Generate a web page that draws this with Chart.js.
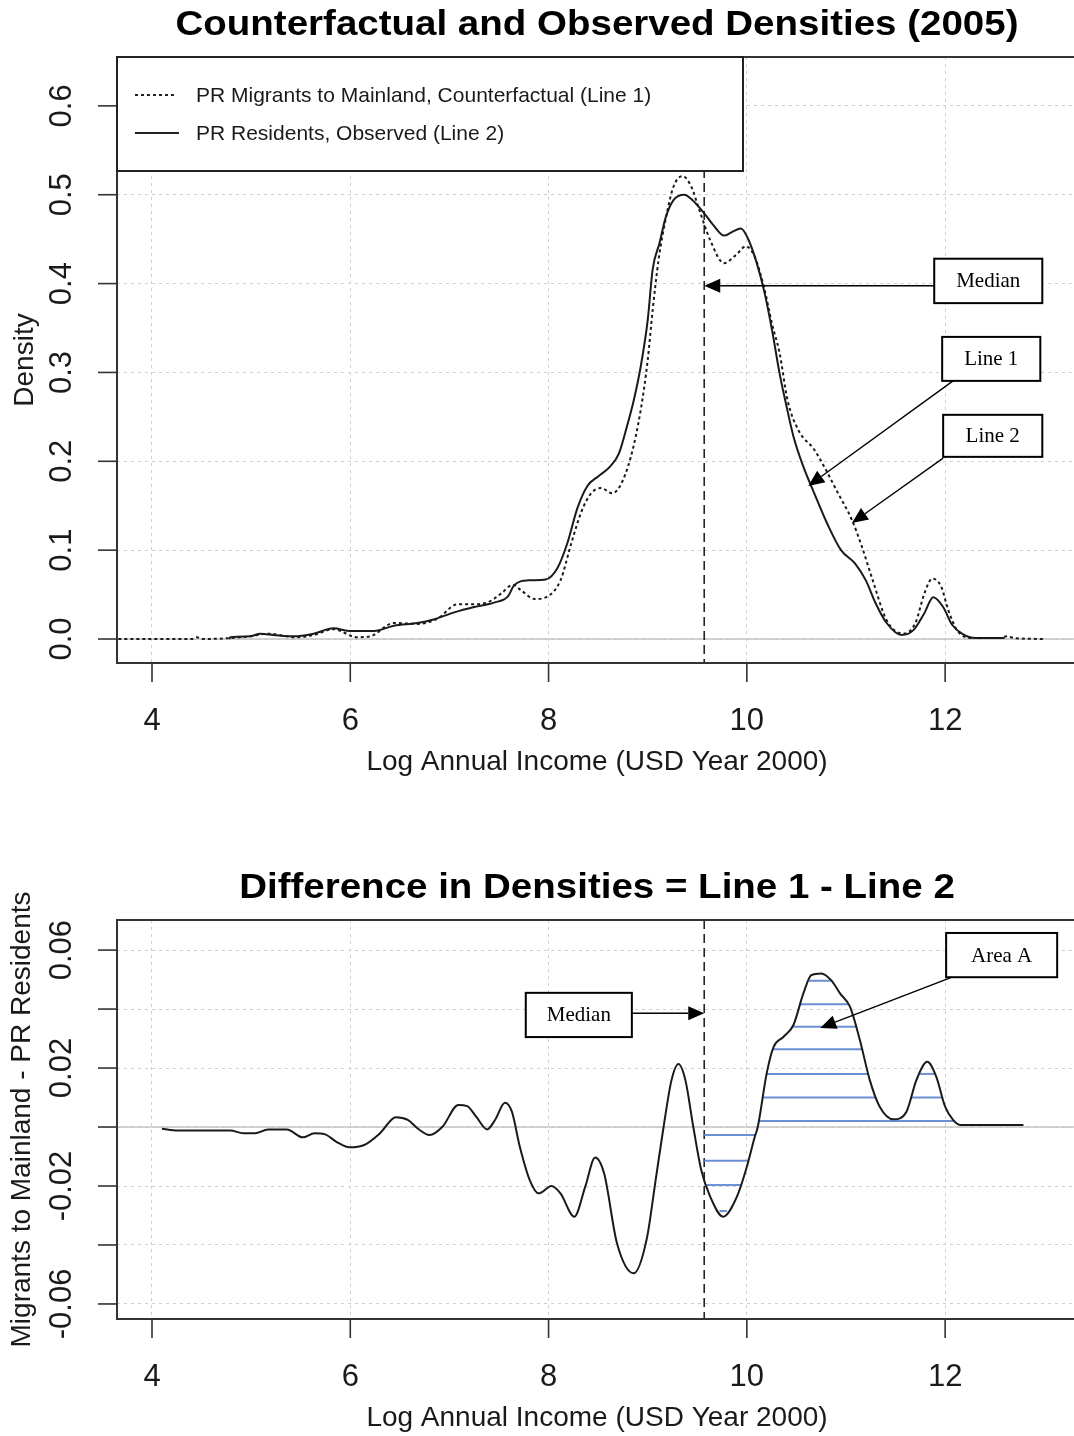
<!DOCTYPE html>
<html>
<head>
<meta charset="utf-8">
<script src="https://cdn.jsdelivr.net/npm/chart.js@4.4.1/dist/chart.umd.min.js"></script>
<style>
  html, body { margin: 0; padding: 0; background: #fff; overflow: hidden; }
  #wrap { position: relative; width: 1074px; height: 1436px; overflow: hidden; }
  canvas { position: absolute; left: 0; }
  #densityChart { top: 0; }
  #diffChart { top: 830px; }
</style>
</head>
<body>
<div id="wrap">
  <canvas id="densityChart" width="1100" height="800"></canvas>
  <canvas id="diffChart" width="1100" height="606"></canvas>
</div>
<script>
// --- data ---
const incomeTicks = [4, 6, 8, 10, 12];
const densityTicks = [0, 0.1, 0.2, 0.3, 0.4, 0.5, 0.6];
const densityTickLabels = ['0.0', '0.1', '0.2', '0.3', '0.4', '0.5', '0.6'];
const diffTicks = [-0.06, -0.04, -0.02, 0, 0.02, 0.04, 0.06];
const diffTickLabels = ['-0.06', '', '-0.02', '', '0.02', '', '0.06'];
const medianIncome = 9.57;

// Line 1: PR migrants to mainland, counterfactual (dotted)
const counterX = [3.60, 4.40, 4.45, 4.52, 4.99, 5.16, 5.46, 5.63, 5.83, 6.07, 6.20, 6.44, 6.68, 6.88, 7.08, 7.21, 7.38, 7.52, 7.64, 7.72, 7.86, 7.99,
  8.12, 8.23, 8.33, 8.43, 8.53, 8.64, 8.72, 8.83, 8.93, 9.00, 9.05, 9.11, 9.18, 9.26, 9.35, 9.44, 9.52, 9.63, 9.77, 9.89, 9.99,
  10.08, 10.17, 10.26, 10.33, 10.41, 10.52, 10.68, 10.78, 10.92, 11.06, 11.16, 11.27, 11.41, 11.58, 11.70, 11.79, 11.87, 11.96,
  12.03, 12.12, 12.27, 12.55, 12.62, 12.70, 13.00];
const counterY = [0, 0, 0.002, 0, 0.003, 0.006, 0.002, 0.0045, 0.011, 0.002, 0.003, 0.018, 0.017, 0.023, 0.039, 0.039, 0.041, 0.051, 0.061, 0.055, 0.045, 0.048,
  0.066, 0.108, 0.143, 0.164, 0.170, 0.164, 0.172, 0.205, 0.258, 0.314, 0.370, 0.427, 0.472, 0.509, 0.521, 0.509, 0.483, 0.449, 0.423, 0.432, 0.442,
  0.430, 0.397, 0.352, 0.322, 0.269, 0.235, 0.213, 0.194, 0.164, 0.134, 0.104, 0.066, 0.021, 0.006, 0.018, 0.051, 0.068, 0.059,
  0.033, 0.010, 0.001, 0.001, 0.003, 0.001, 0];

// Line 2: PR residents, observed (solid)
const observedX = [4.78, 4.79, 4.99, 5.09, 5.23, 5.43, 5.63, 5.83, 6.00, 6.24, 6.44, 6.68, 6.84, 7.05, 7.25, 7.45, 7.59, 7.65, 7.79, 7.97,
  8.09, 8.19, 8.29, 8.39, 8.50, 8.62, 8.71, 8.79, 8.86, 8.93, 9.00, 9.05, 9.12, 9.18, 9.26, 9.37, 9.45, 9.57, 9.66, 9.77, 9.85, 9.94,
  10.01, 10.10, 10.18, 10.26, 10.33, 10.40, 10.47, 10.57, 10.68, 10.81, 10.95, 11.09, 11.20, 11.30, 11.41, 11.56, 11.68, 11.79, 11.88,
  11.98, 12.07, 12.17, 12.31, 12.60];
const observedY = [0, 0.002, 0.003, 0.006, 0.0045, 0.003, 0.006, 0.012, 0.009, 0.009, 0.015, 0.018, 0.022, 0.030, 0.036, 0.041, 0.048, 0.060, 0.066, 0.067,
  0.080, 0.108, 0.147, 0.172, 0.183, 0.194, 0.209, 0.239, 0.269, 0.307, 0.359, 0.416, 0.446, 0.474, 0.494, 0.500, 0.494, 0.479, 0.466, 0.454, 0.458, 0.462,
  0.451, 0.423, 0.389, 0.344, 0.299, 0.262, 0.228, 0.194, 0.164, 0.130, 0.100, 0.085, 0.066, 0.040, 0.018, 0.0045, 0.010, 0.029, 0.047,
  0.036, 0.016, 0.006, 0.001, 0.001];

// Difference in densities = Line 1 - Line 2
const diffX = [4.10, 4.26, 4.79, 4.92, 5.04, 5.17, 5.36, 5.52, 5.64, 5.74, 5.86, 5.99, 6.14, 6.30, 6.46, 6.58, 6.68, 6.80, 6.93, 7.09, 7.18, 7.27,
  7.38, 7.46, 7.56, 7.63, 7.71, 7.81, 7.90, 8.03, 8.12, 8.26, 8.37, 8.47, 8.56, 8.69, 8.86, 8.99, 9.08, 9.16, 9.24, 9.31, 9.38, 9.46,
  9.54, 9.63, 9.76, 9.90, 10.00, 10.08, 10.11, 10.20, 10.27, 10.37, 10.47, 10.57, 10.65, 10.75, 10.85, 10.94, 11.04, 11.14, 11.24,
  11.34, 11.48, 11.61, 11.71, 11.82, 11.91, 12.00, 12.08, 12.15, 12.79];
const diffY = [-0.0006, -0.0012, -0.0012, -0.0021, -0.0021, -0.0008, -0.0008, -0.0035, -0.0021, -0.0024, -0.0050, -0.0069, -0.0061, -0.0021, 0.0033, 0.0024, -0.0005, -0.0027, 0.0001, 0.0075, 0.0071, 0.0035,
  -0.0008, 0.0024, 0.0082, 0.0052, -0.0067, -0.0180, -0.0225, -0.0200, -0.0225, -0.0304, -0.0202, -0.0103, -0.0157, -0.0394, -0.0496, -0.0380, -0.0180, 0, 0.0159, 0.0214, 0.0159, 0,
  -0.0146, -0.0236, -0.0304, -0.0236, -0.0135, -0.0033, 0, 0.0182, 0.0272, 0.0306, 0.0346, 0.0453, 0.0515, 0.0521, 0.0498, 0.0453, 0.0408, 0.0295, 0.0159,
  0.0069, 0.0026, 0.0052, 0.0159, 0.0221, 0.0171, 0.0069, 0.0024, 0.0007, 0.0007];

// levels of the hand-drawn hatching
const hatchUp = [0.002, 0.010, 0.018, 0.0264, 0.034, 0.0416, 0.0496];
const hatchDown = [-0.0027, -0.0114, -0.0197, -0.0285];

// text boxes with arrows, in data units
const densityNotes = [
  { text: 'Median', box: [11.89, 12.98, 0.428, 0.378], from: [11.89, 0.3975], to: [medianIncome, 0.3975] },
  { text: 'Line 1', box: [11.97, 12.96, 0.340, 0.2905], from: [12.08, 0.2905], to: [10.62, 0.1723] },
  { text: 'Line 2', box: [11.98, 12.98, 0.2523, 0.205], from: [11.98, 0.2035], to: [11.06, 0.1306] }
];
const diffNotes = [
  { text: 'Median', box: [7.77, 8.84, 0.0455, 0.0305], from: [8.84, 0.0386], to: [medianIncome, 0.0386] },
  { text: 'Area A', box: [12.01, 13.13, 0.0658, 0.0508], from: [12.07, 0.0508], to: [10.74, 0.0336] }
];

const SANS = '"Liberation Sans", Arial, sans-serif';
const SERIF = '"Liberation Serif", "Times New Roman", serif';
const HATCH = '#6b8fd4';

const pts = (xs, ys) => xs.map((x, i) => ({ x, y: ys[i] }));

function yAt(xs, ys, x) {
  if (x <= xs[0]) return ys[0];
  for (let i = 1; i < xs.length; i++) {
    if (x <= xs[i]) {
      const t = (x - xs[i - 1]) / (xs[i] - xs[i - 1]);
      return ys[i - 1] + t * (ys[i] - ys[i - 1]);
    }
  }
  return ys[ys.length - 1];
}

// x-intervals in [lo, hi] where the curve is above (or below) a level
function hatchSegments(xs, ys, level, lo, hi, above) {
  const grid = [lo, ...xs.filter(x => x > lo && x < hi), hi];
  const f = x => above ? yAt(xs, ys, x) - level : level - yAt(xs, ys, x);
  const segs = [];
  let start = f(lo) >= 0 ? lo : null;
  for (let i = 1; i < grid.length; i++) {
    const a = grid[i - 1], b = grid[i], fa = f(a), fb = f(b);
    if (fa < 0 && fb >= 0) start = a + (b - a) * (-fa) / (fb - fa);
    if (fa >= 0 && fb < 0) {
      segs.push([start, a + (b - a) * fa / (fa - fb)]);
      start = null;
    }
  }
  if (start !== null) segs.push([start, hi]);
  return segs;
}

function hatchSets() {
  const out = [];
  const add = (lvls, lo, hi, above) => lvls.forEach(l => {
    hatchSegments(diffX, diffY, l, lo, hi, above).forEach(s => {
      out.push({ data: [{ x: s[0], y: l }, { x: s[1], y: l }], borderColor: HATCH, borderWidth: 2, pointRadius: 0, tension: 0 });
    });
  });
  add(hatchUp, medianIncome, 12.3, true);
  add(hatchDown, medianIncome, 10.3, false);
  return out;
}

function txt(ctx, s, x, y, font, o = {}) {
  ctx.save();
  ctx.translate(x, y);
  if (o.rot) ctx.rotate(o.rot);
  ctx.scale(o.sx || 1, 1);
  ctx.font = font;
  ctx.fillStyle = o.color || '#1a1a1a';
  ctx.textAlign = o.align || 'center';
  ctx.textBaseline = o.base || 'middle';
  ctx.fillText(s, 0, 0);
  ctx.restore();
}

function arrow(ctx, x1, y1, x2, y2) {
  const a = Math.atan2(y2 - y1, x2 - x1), L = 16, W = 7;
  const bx = x2 - L * Math.cos(a), by = y2 - L * Math.sin(a);
  ctx.beginPath();
  ctx.moveTo(x1, y1);
  ctx.lineTo(bx, by);
  ctx.stroke();
  ctx.beginPath();
  ctx.moveTo(x2, y2);
  ctx.lineTo(bx + W * Math.sin(a), by - W * Math.cos(a));
  ctx.lineTo(bx - W * Math.sin(a), by + W * Math.cos(a));
  ctx.closePath();
  ctx.fill();
}

function decor(o) {
  return {
    id: 'decor',
    beforeDatasetsDraw(chart) {
      const { ctx, chartArea: a, scales: { x, y } } = chart;
      ctx.save();
      ctx.strokeStyle = '#c4c4c4';
      ctx.lineWidth = 1.5;
      const zy = y.getPixelForValue(0);
      ctx.beginPath(); ctx.moveTo(a.left, zy); ctx.lineTo(a.right, zy); ctx.stroke();
      ctx.strokeStyle = '#222';
      ctx.lineWidth = 1.6;
      ctx.setLineDash([9, 5]);
      const mx = x.getPixelForValue(medianIncome);
      ctx.beginPath(); ctx.moveTo(mx, a.top); ctx.lineTo(mx, a.bottom); ctx.stroke();
      ctx.restore();
    },
    afterDraw(chart) {
      const { ctx, chartArea: a, scales: { x, y } } = chart;
      ctx.save();
      ctx.strokeStyle = '#333';
      ctx.lineWidth = 2;
      ctx.strokeRect(a.left, a.top, a.right - a.left, a.bottom - a.top);

      // ticks and tick labels
      ctx.lineWidth = 1.6;
      incomeTicks.forEach(v => {
        const px = x.getPixelForValue(v);
        ctx.beginPath(); ctx.moveTo(px, a.bottom); ctx.lineTo(px, a.bottom + 19); ctx.stroke();
        txt(ctx, String(v), px, a.bottom + 58, '31px ' + SANS);
      });
      o.yTicks.forEach((v, i) => {
        const py = y.getPixelForValue(v);
        ctx.beginPath(); ctx.moveTo(a.left - 19, py); ctx.lineTo(a.left, py); ctx.stroke();
        if (o.yLabels[i]) txt(ctx, o.yLabels[i], a.left - 55, py, '31px ' + SANS, { rot: -Math.PI / 2 });
      });

      // titles
      txt(ctx, o.title, 597, a.top - 32, 'bold 35px ' + SANS, { sx: 1.1, color: '#000' });
      txt(ctx, 'Log Annual Income (USD Year 2000)', 597, a.bottom + 99, '28px ' + SANS);
      txt(ctx, o.yTitle, a.left - o.yTitleOff, (a.top + a.bottom) / 2, '28px ' + SANS, { rot: -Math.PI / 2 });

      // legend
      if (o.legend) {
        const lx = a.left, ly = a.top;
        ctx.fillStyle = '#fff';
        ctx.fillRect(lx, ly, 626, 114);
        ctx.lineWidth = 2;
        ctx.strokeStyle = '#222';
        ctx.strokeRect(lx, ly, 626, 114);
        ctx.lineWidth = 2;
        ctx.setLineDash([3, 3]);
        ctx.beginPath(); ctx.moveTo(lx + 18, ly + 38); ctx.lineTo(lx + 58, ly + 38); ctx.stroke();
        ctx.setLineDash([]);
        ctx.beginPath(); ctx.moveTo(lx + 18, ly + 76); ctx.lineTo(lx + 62, ly + 76); ctx.stroke();
        txt(ctx, 'PR Migrants to Mainland, Counterfactual (Line 1)', lx + 79, ly + 39, '21px ' + SANS, { align: 'left' });
        txt(ctx, 'PR Residents, Observed (Line 2)', lx + 79, ly + 77, '21px ' + SANS, { align: 'left' });
      }

      // annotation boxes and arrows
      o.notes.forEach(n => {
        const x1 = x.getPixelForValue(n.box[0]), x2 = x.getPixelForValue(n.box[1]);
        const y1 = y.getPixelForValue(n.box[2]), y2 = y.getPixelForValue(n.box[3]);
        ctx.fillStyle = '#fff';
        ctx.fillRect(x1, y1, x2 - x1, y2 - y1);
        ctx.strokeStyle = '#000';
        ctx.lineWidth = 2;
        ctx.strokeRect(x1, y1, x2 - x1, y2 - y1);
        txt(ctx, n.text, (x1 + x2) / 2, (y1 + y2) / 2 + 1, '21px ' + SERIF, { color: '#000' });
        ctx.fillStyle = '#000';
        ctx.lineWidth = 1.4;
        arrow(ctx, x.getPixelForValue(n.from[0]), y.getPixelForValue(n.from[1]),
          x.getPixelForValue(n.to[0]), y.getPixelForValue(n.to[1]));
      });
      ctx.restore();
    }
  };
}

function axisOpts(min, max, ticks, size) {
  return {
    type: 'linear',
    min, max,
    afterBuildTicks: s => { s.ticks = ticks.map(v => ({ value: v })); },
    afterFit: s => { if (s.isHorizontal()) s.height = size; else s.width = size; },
    ticks: { display: false },
    grid: { color: '#cfcfcf', lineWidth: 1, drawTicks: false, borderDash: [3, 4] },
    border: { display: false, dash: [3, 4] }
  };
}

const common = {
  responsive: false,
  animation: false,
  events: [],
  plugins: { legend: { display: false }, tooltip: { enabled: false } },
  elements: { point: { radius: 0 } }
};

new Chart(document.getElementById('densityChart'), {
  type: 'line',
  data: {
    datasets: [
      { data: pts(observedX, observedY), borderColor: '#1a1a1a', borderWidth: 2, cubicInterpolationMode: 'monotone', pointRadius: 0 },
      { data: pts(counterX, counterY), borderColor: '#1a1a1a', borderWidth: 2, borderDash: [3, 3], cubicInterpolationMode: 'monotone', pointRadius: 0 }
    ]
  },
  options: Object.assign({}, common, {
    layout: { padding: { top: 57, right: 23, bottom: 0, left: 0 } },
    scales: {
      x: axisOpts(3.647, 13.33, incomeTicks, 137),
      y: axisOpts(-0.027, 0.655, densityTicks, 117)
    }
  }),
  plugins: [decor({
    title: 'Counterfactual and Observed Densities (2005)',
    yTitle: 'Density', yTitleOff: 92,
    yTicks: densityTicks, yLabels: densityTickLabels,
    legend: true, notes: densityNotes
  })]
});

new Chart(document.getElementById('diffChart'), {
  type: 'line',
  data: {
    datasets: [
      { data: pts(diffX, diffY), borderColor: '#1a1a1a', borderWidth: 2, cubicInterpolationMode: 'monotone', pointRadius: 0 }
    ].concat(hatchSets())
  },
  options: Object.assign({}, common, {
    layout: { padding: { top: 90, right: 23, bottom: 0, left: 0 } },
    scales: {
      x: axisOpts(3.647, 13.33, incomeTicks, 117),
      y: axisOpts(-0.0651, 0.0702, diffTicks, 117)
    }
  }),
  plugins: [decor({
    title: 'Difference in Densities = Line 1 - Line 2',
    yTitle: 'Migrants to Mainland - PR Residents', yTitleOff: 95,
    yTicks: diffTicks, yLabels: diffTickLabels,
    legend: false, notes: diffNotes
  })]
});
</script>
</body>
</html>
